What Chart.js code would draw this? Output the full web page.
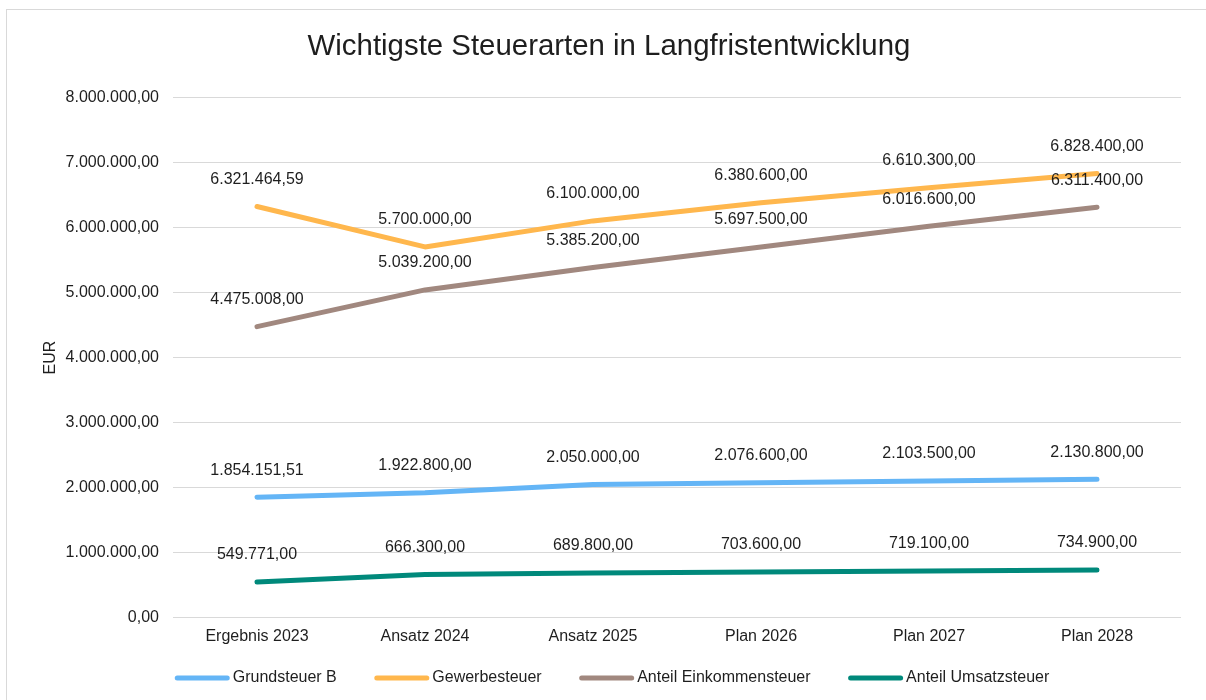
<!DOCTYPE html>
<html>
<head>
<meta charset="utf-8">
<title>Wichtigste Steuerarten in Langfristentwicklung</title>
<script src="https://cdn.jsdelivr.net/npm/chart.js@4.4.1/dist/chart.umd.min.js"></script>
<style>
  html, body { margin: 0; padding: 0; background: #fff; }
  #wrap { width: 1206px; height: 700px; }
</style>
</head>
<body>
<div id="wrap"><canvas id="steuerChart" width="1206" height="700"></canvas></div>
<script>
const categories = ['Ergebnis 2023', 'Ansatz 2024', 'Ansatz 2025', 'Plan 2026', 'Plan 2027', 'Plan 2028'];
const grundsteuerB = [1854151.51, 1922800, 2050000, 2076600, 2103500, 2130800];
const gewerbesteuer = [6321464.59, 5700000, 6100000, 6380600, 6610300, 6828400];
const einkommensteuer = [4475008, 5039200, 5385200, 5697500, 6016600, 6311400];
const umsatzsteuer = [549771, 666300, 689800, 703600, 719100, 734900];
const yTicks = [0, 1000000, 2000000, 3000000, 4000000, 5000000, 6000000, 7000000, 8000000];

const FONT = '"Liberation Sans", Arial, sans-serif';
const PAD_LEFT = 37;

// 1234567.5 -> "1.234.567,50"
function formatEur(v) {
  const parts = Math.abs(v).toFixed(2).split('.');
  const int = parts[0].replace(/\B(?=(\d{3})+(?!\d))/g, '.');
  return (v < 0 ? '-' : '') + int + ',' + parts[1];
}

const framePlugin = {
  id: 'frame',
  beforeDraw(chart) {
    const ctx = chart.ctx;
    ctx.save();
    ctx.fillStyle = '#fff';
    ctx.fillRect(0, 0, chart.width, chart.height);
    ctx.strokeStyle = '#d9d9d9';
    ctx.lineWidth = 1;
    ctx.strokeRect(6.5, 9.5, chart.width, chart.height);
    ctx.restore();
  }
};

const valueLabels = {
  id: 'valueLabels',
  afterDatasetsDraw(chart) {
    const ctx = chart.ctx;
    ctx.save();
    ctx.font = '16px ' + FONT;
    ctx.fillStyle = '#1e1e1e';
    ctx.textAlign = 'center';
    ctx.textBaseline = 'middle';
    chart.data.datasets.forEach((ds, i) => {
      chart.getDatasetMeta(i).data.forEach((pt, j) => {
        ctx.fillText(formatEur(ds.data[j]), pt.x, pt.y - 27);
      });
    });
    ctx.restore();
  }
};

// legend with line swatches, laid out like the office chart
const lineLegend = {
  id: 'lineLegend',
  afterDraw(chart) {
    const ctx = chart.ctx;
    const lineLen = 55, gap = 3, spacing = 37.5, y = 678, center = 612;
    ctx.save();
    ctx.font = '16px ' + FONT;
    ctx.textBaseline = 'middle';
    ctx.textAlign = 'left';
    const items = chart.data.datasets.map(ds => ({
      ds, w: lineLen + gap + ctx.measureText(ds.label).width
    }));
    const total = items.reduce((s, it) => s + it.w, 0) + spacing * (items.length - 1);
    let x = center - total / 2;
    items.forEach(it => {
      ctx.strokeStyle = it.ds.borderColor;
      ctx.lineWidth = it.ds.borderWidth;
      ctx.lineCap = 'round';
      ctx.beginPath();
      ctx.moveTo(x + 2.5, y);
      ctx.lineTo(x + lineLen - 2.5, y);
      ctx.stroke();
      ctx.fillStyle = '#1e1e1e';
      ctx.fillText(it.ds.label, x + lineLen + gap, y);
      x += it.w + spacing;
    });
    ctx.restore();
  }
};

function series(label, data, color) {
  return {
    label, data,
    borderColor: color,
    backgroundColor: color,
    borderWidth: 5,
    borderCapStyle: 'round',
    borderJoinStyle: 'round',
    pointRadius: 0,
    pointHoverRadius: 0,
    tension: 0,
    fill: false
  };
}

document.addEventListener('DOMContentLoaded', () => {
  const ctx = document.getElementById('steuerChart').getContext('2d');

  new Chart(ctx, {
    type: 'line',
    data: {
      labels: categories,
      datasets: [
        series('Grundsteuer B', grundsteuerB, '#64b5f6'),
        series('Gewerbesteuer', gewerbesteuer, '#ffb74d'),
        series('Anteil Einkommensteuer', einkommensteuer, '#a1887f'),
        series('Anteil Umsatzsteuer', umsatzsteuer, '#00897b')
      ]
    },
    options: {
      responsive: false,
      animation: false,
      layout: { padding: { left: PAD_LEFT, right: 25, top: 10, bottom: 45 } },
      plugins: {
        legend: { display: false },
        tooltip: { enabled: false },
        title: {
          display: true,
          text: 'Wichtigste Steuerarten in Langfristentwicklung',
          color: '#1e1e1e',
          font: { family: FONT, size: 29.4, weight: 'normal' },
          padding: { top: 19, bottom: 33 }
        }
      },
      scales: {
        x: {
          offset: true,
          grid: { display: false, drawTicks: false },
          border: { display: false },
          ticks: { color: '#1e1e1e', font: { family: FONT, size: 16 }, padding: 9, maxRotation: 0 }
        },
        y: {
          min: 0,
          max: 8000000,
          afterBuildTicks(scale) {
            scale.ticks = yTicks.map(v => ({ value: v }));
          },
          afterFit(scale) {
            scale.width = 173 - PAD_LEFT;
          },
          grid: { color: '#d9d9d9', lineWidth: 1, drawTicks: false },
          border: { display: false },
          ticks: {
            color: '#1e1e1e',
            font: { family: FONT, size: 16 },
            padding: 14,
            callback: v => formatEur(v)
          },
          title: {
            display: true,
            text: 'EUR',
            color: '#1e1e1e',
            font: { family: FONT, size: 16 },
            padding: { top: 4, bottom: 4 }
          }
        }
      }
    },
    plugins: [framePlugin, valueLabels, lineLegend]
  });
});
</script>
</body>
</html>
